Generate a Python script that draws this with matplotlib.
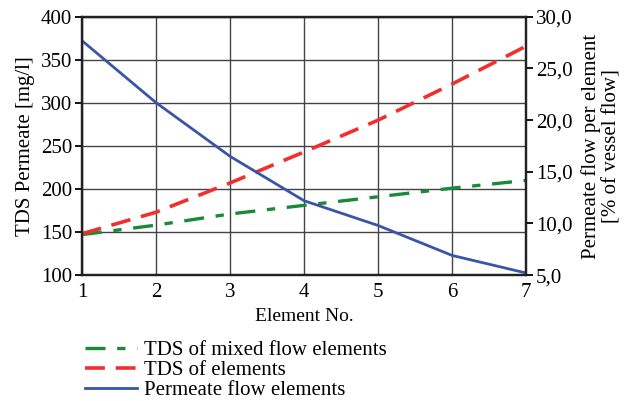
import matplotlib
matplotlib.use("Agg")
import matplotlib.pyplot as plt
from matplotlib.ticker import FuncFormatter

plt.rcParams['font.family'] = ['Liberation Serif', 'DejaVu Serif']

elements = [1, 2, 3, 4, 5, 6, 7]
tds_mixed = [147, 158, 171, 181, 191, 201, 210]
tds_elements = [148, 173, 207, 243, 280, 322, 366]
permeate_flow = [27.7, 21.7, 16.5, 12.2, 9.8, 6.9, 5.2]

fig = plt.figure(figsize=(6.25, 4.01), dpi=100)
ax = fig.add_axes([0.131, 0.314, 0.711, 0.644])
ax2 = ax.twinx()

l1, = ax.plot(elements, tds_mixed, color='#1a8a3a', lw=2.4,
              dashes=(6, 3.5, 2.5, 3.5), label='TDS of mixed flow elements')
l2, = ax.plot(elements, tds_elements, color='#f03030', lw=2.6,
              dashes=(5.5, 3), label='TDS of elements')
l3, = ax2.plot(elements, permeate_flow, color='#3a55a8', lw=2.0,
               label='Permeate flow elements')

ax.set_xlim(1, 7)
ax.set_ylim(100, 400)
ax2.set_ylim(5, 30)
ax.set_xticks(elements)
ax.set_yticks(range(100, 401, 50))
ax2.set_yticks(range(5, 31, 5))
ax2.yaxis.set_major_formatter(FuncFormatter(lambda v, p: f"{v:.1f}".replace('.', ',')))

ax.grid(True, color='#444444', lw=1.0)
ax.set_axisbelow(True)
for a in (ax, ax2):
    for s in a.spines.values():
        s.set_linewidth(1.6)
        s.set_color('#222222')
ax.tick_params(axis='y', direction='out', length=5, width=1.3, labelsize=15, pad=2)
ax.tick_params(axis='x', length=0, labelsize=15, pad=6)
ax2.tick_params(axis='y', direction='out', length=5, width=1.3, labelsize=15, pad=2)

ax.set_xlabel('Element No.', fontsize=14, labelpad=4)
ax.set_ylabel('TDS Permeate [mg/l]', fontsize=15, labelpad=4)
ax2.set_ylabel('Permeate flow per element\n[% of vessel flow]', fontsize=15,
               labelpad=6, linespacing=1.15)

fig.legend(handles=[l1, l2, l3], loc='upper left', bbox_to_anchor=(0.122, 0.172),
           frameon=False, fontsize=15, handlelength=2.5, handletextpad=0.35,
           labelspacing=0.02, borderaxespad=0)

fig.savefig('out.png', dpi=100)
